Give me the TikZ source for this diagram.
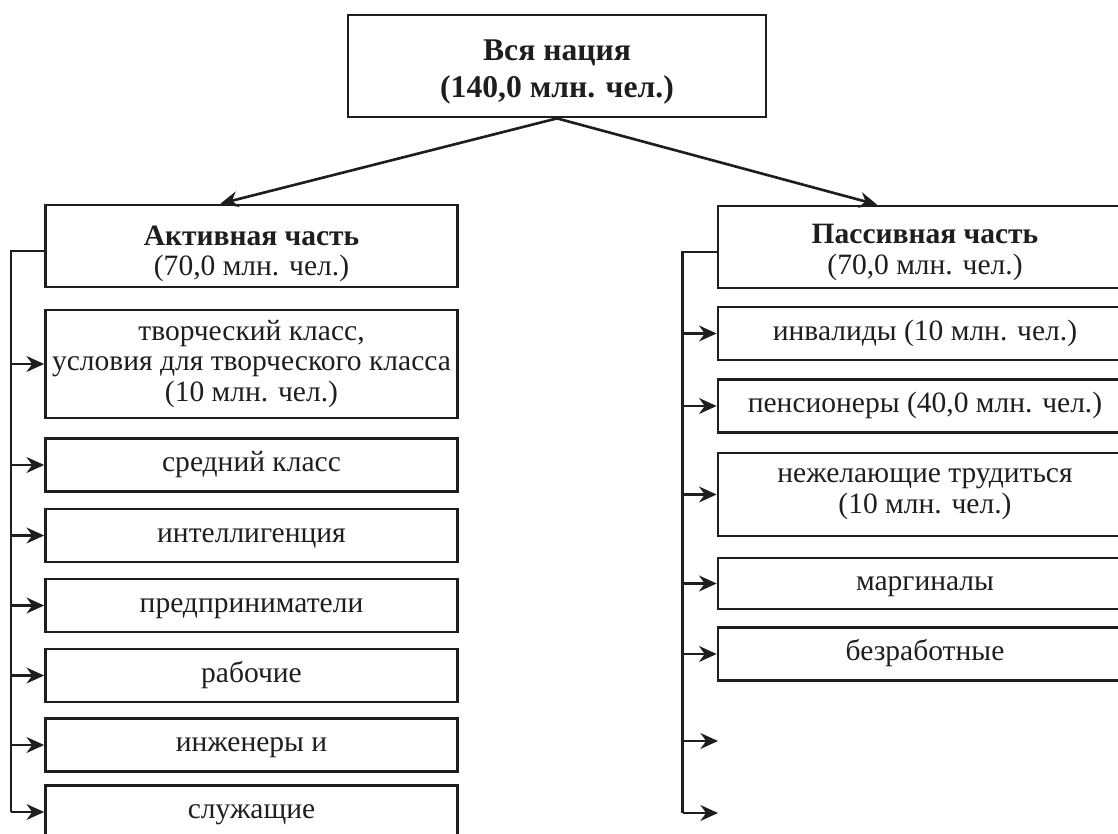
\documentclass[tikz,border=0pt]{standalone}
\usepackage{fontspec}
\setmainfont{Liberation Serif}
\usepackage{tikz}
\usetikzlibrary{arrows.meta,positioning,calc}
\definecolor{ink}{RGB}{30,30,30}

\begin{document}
\begin{tikzpicture}[x=0.02cm, y=-0.02cm,
  box/.style={draw=ink, line width=1.6pt, minimum width=8.24cm, minimum height=1.06cm,
    inner sep=0pt, align=center, text=ink, font=\fontsize{16.8}{17.5}\selectfont},
  item/.style={box, text height=11pt, text depth=3.3pt},
  wire/.style={draw=ink, line width=1.5pt},
  link/.style={wire, -{Stealth[length=10pt,width=9pt]}}]
  \useasboundingbox (0,0) rectangle (1118,834);

  % top
  \node[box, minimum width=8.36cm, minimum height=2.04cm, font=\fontsize{18}{21}\selectfont\bfseries]
    (nation) at (557,66) {\rule{0pt}{19pt}Вся нация\\(140,0 млн. чел.)};

  % active part
  \node[box, minimum height=1.64cm] (active) at (251.5,246)
    {\rule{0pt}{20pt}\textbf{Активная часть}\\(70,0 млн. чел.)};
  \node[box, minimum height=2.16cm] (creative) at (251.5,364)
    {творческий класс,\\условия для творческого класса\\(10 млн. чел.)};
  \node[item] (middle) at (251.5,465) {средний класс};
  \node[item] (intel) at (251.5,535.5) {интеллигенция};
  \node[item] (entre) at (251.5,605.5) {предприниматели};
  \node[item] (workers) at (251.5,675.5) {рабочие};
  \node[item] (engineers) at (251.5,745) {инженеры и};
  \node[item] (clerks) at (251.5,812) {служащие};

  % passive part
  \node[box, minimum width=8.28cm, minimum height=1.64cm] (passive) at (925,247)
    {\rule{0pt}{17pt}\textbf{Пассивная часть}\\(70,0 млн. чел.)};
  \node[item, minimum width=8.28cm] (invalid) at (925,333.5) {инвалиды (10 млн. чел.)};
  \node[item, minimum width=8.28cm] (pension) at (925,406) {пенсионеры (40,0 млн. чел.)};
  \node[box, minimum width=8.28cm, minimum height=1.66cm] (idle) at (925,494.5) {нежелающие трудиться\\(10 млн. чел.)};
  \node[item, minimum width=8.28cm, minimum height=1.02cm] (marginal) at (925,583.5) {маргиналы};
  \node[item, minimum width=8.28cm] (jobless) at (925,654) {безработные};
  \coordinate (free1) at (718,741);
  \coordinate (free2) at (718,813);

  \draw[link] (nation.south) -- ([xshift=-0.62cm]active.north);
  \draw[link] (nation.south) -- ([xshift=-0.96cm]passive.north);

  % buses
  \draw[wire] ([yshift=-0.1cm]active.west) -- ++(-33,0) coordinate (abus) -- (abus |- clerks.west);
  \foreach \b in {creative, middle, intel, entre, workers, engineers, clerks}
    \draw[link] (abus |- \b.west) -- (\b.west);

  \draw[wire] ([yshift=-0.1cm]passive.west) -- ++(-34,0) coordinate (pbus) -- (pbus |- free2);
  \foreach \b in {invalid.west, pension.west, idle.west, marginal.west, jobless.west, free1, free2}
    \draw[link] (pbus |- \b) -- (\b);
\end{tikzpicture}
\end{document}
